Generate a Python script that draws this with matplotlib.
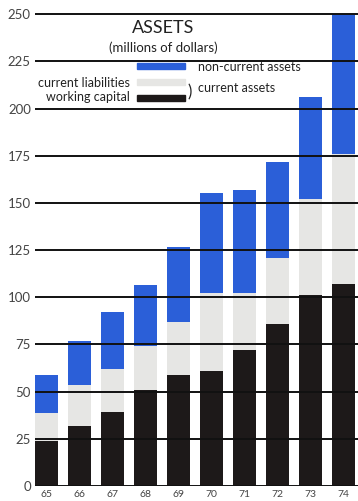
import matplotlib.pyplot as plt
import numpy as np

plt.rcParams['font.family'] = ['Lato', 'DejaVu Sans']

years = ['65', '66', '67', '68', '69', '70', '71', '72', '73', '74']
working_capital = [24, 32, 39, 51, 59, 61, 72, 86, 101, 107]
current_assets = [38.5, 53.5, 62, 74, 87, 102, 102.5, 121, 152, 176]
total_assets = [59, 77, 92, 106.5, 126.5, 155, 157, 171.5, 206, 250]

wc = np.array(working_capital)
ca = np.array(current_assets)
ta = np.array(total_assets)
liabilities = ca - wc
non_current = ta - ca

blue = '#2b5fd8'
grey = '#e6e6e4'
black = '#1d1919'

fig = plt.figure(figsize=(3.58, 5.01), dpi=100)
ax = fig.add_axes([35 / 358, 15 / 501, 323 / 358, 473 / 501])

x = np.arange(len(years))
w = 0.7
ax.bar(x, wc, w, color=black, zorder=2)
ax.bar(x, liabilities, w, bottom=wc, color=grey, zorder=1)
ax.bar(x, non_current, w, bottom=ca, color=blue, zorder=2)

# horizontal rules sit on top of the bars
for v in range(0, 251, 25):
    ax.axhline(v, color='#111111', lw=1.4, zorder=3)

ax.set_xlim(-0.35, 9.44)
ax.set_ylim(0, 250.6)
ax.set_yticks(range(0, 251, 25))
ax.set_xticks(x)
ax.set_xticklabels(years, fontsize=7.5, color='#444444')
ax.tick_params(axis='y', labelsize=9.5, colors='#444444', length=0, pad=3)
ax.tick_params(axis='x', length=0, pad=3)
for s in ax.spines.values():
    s.set_visible(False)


def put(px, py, s, **kw):
    # place text by pixel position, baseline anchored
    fig.text(px / 358, 1 - py / 501, s, va='baseline', color='#222222', **kw)


# title and key
put(163, 33, 'ASSETS', fontsize=13, ha='center')
put(163, 52, '(millions of dollars)', fontsize=9.5, ha='center')

key = [(blue, 66), (grey, 82), (black, 98)]
for c, yy in key:
    fig.patches.append(plt.Rectangle((137 / 358, 1 - (yy + 3) / 501), 48 / 358, 6 / 501,
                                     transform=fig.transFigure, color=c, zorder=5))
put(198, 71, 'non-current assets', fontsize=9, ha='left')
put(130, 87, 'current liabilities', fontsize=9, ha='right')
put(130, 101, 'working capital', fontsize=9, ha='right')
put(187, 97, ')', fontsize=12, ha='left')
put(198, 92, 'current assets', fontsize=9, ha='left')

fig.savefig('out.png', dpi=100)
